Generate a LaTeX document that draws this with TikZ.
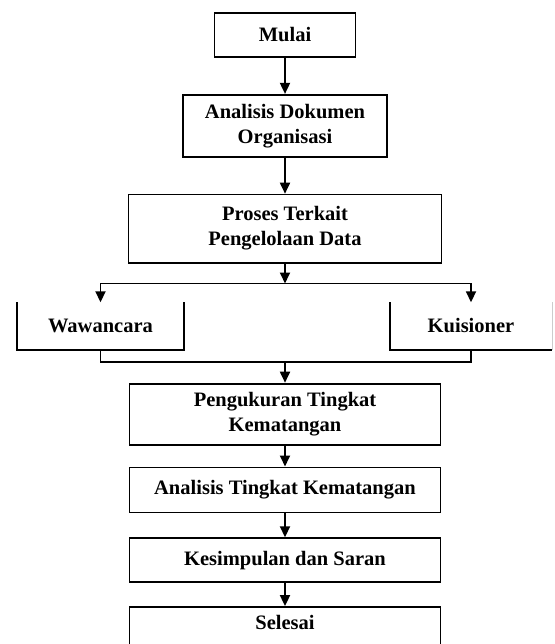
\documentclass[tikz,border=0pt]{standalone}
\usepackage{fontspec}
\setmainfont{Liberation Serif}
\usetikzlibrary{arrows.meta, positioning}

\begin{document}
\begin{tikzpicture}[x=1pt, y=-1pt,
        box/.style={draw, line width=1.8pt, minimum width=311pt, minimum height=45pt,
                    inner sep=0pt, align=center, font=\fontsize{20.5}{25}\selectfont\bfseries},
        bukabox/.style={minimum height=47pt, inner sep=0pt,
                    font=\fontsize{20.5}{25}\selectfont\bfseries},
        garis/.style={line width=1.8pt},
        arr/.style={-{Triangle[width=10pt,length=11pt]}, line width=1.8pt}
      ]
      \useasboundingbox (0,0) rectangle (554,644);
      \clip (0,0) rectangle (554,644);

      \node[box, minimum width=141pt, minimum height=44pt] (mulai) at (285,35) {Mulai};
      \node[box, minimum width=204pt, minimum height=62pt, below=36pt of mulai] (dokumen) {Analisis Dokumen\\Organisasi};
      \node[box, minimum width=313pt, minimum height=68pt, below=36pt of dokumen] (proses) {Proses Terkait\\Pengelolaan Data};
      \coordinate[below=20pt of proses] (cabang);

      \node[bukabox, minimum width=167pt] (wawancara) at (100.5,326) {Wawancara};
      \node[bukabox, minimum width=162pt] (kuisioner) at (471,326) {Kuisioner};
      \coordinate[below=12pt of wawancara.south] (kiri);
      \coordinate (gabung) at (kiri -| proses);

      \node[box, minimum height=61pt, below=21pt of gabung] (ukur) {Pengukuran Tingkat\\Kematangan};
      \node[box, below=21pt of ukur] (analisis) {Analisis Tingkat Kematangan};
      \node[box, minimum height=44pt, below=24pt of analisis] (simpulan) {Kesimpulan dan Saran};
      \node[box, minimum height=54pt, text height=22pt, text depth=32pt, below=23pt of simpulan] (selesai) {Selesai};

      \draw[arr] (mulai) -- (dokumen);
      \draw[arr] (dokumen) -- (proses);
      \draw[arr] (proses) -- (cabang);
      \draw[arr] (cabang) -| (wawancara.north);
      \draw[arr] (cabang) -| (kuisioner.north);

      % kotak tanpa sisi atas
      \draw[garis] (wawancara.north west) |- (wawancara.south east) -- (wawancara.north east);
      \draw[garis] (kuisioner.north west) |- (kuisioner.south east);
      \draw[line width=0.6pt, gray!40] (kuisioner.south east) -- (kuisioner.north east);

      \draw[garis] (wawancara.south) -- (kiri) -| (kuisioner.south);
      \draw[arr] (gabung) -- (ukur);
      \draw[arr] (ukur) -- (analisis);
      \draw[arr] (analisis) -- (simpulan);
      \draw[arr] (simpulan) -- (selesai);
    \end{tikzpicture}
\end{document}
